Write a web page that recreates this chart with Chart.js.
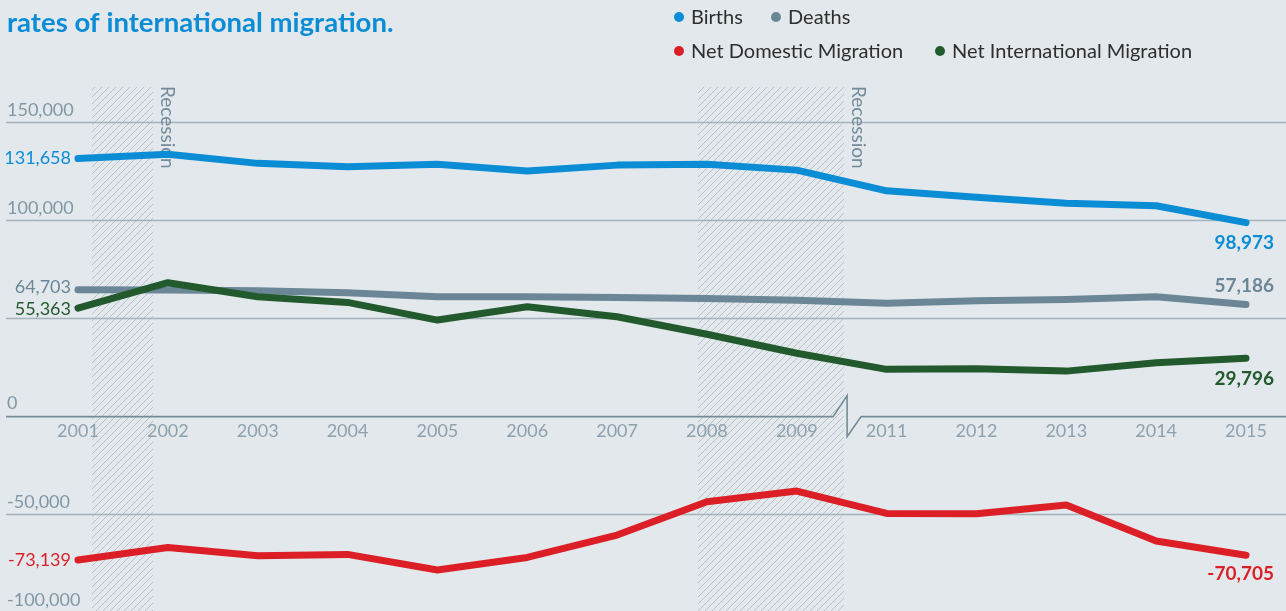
<!DOCTYPE html>
<html><head><meta charset="utf-8">
<script src="https://cdn.jsdelivr.net/npm/chart.js@4.4.1/dist/chart.umd.min.js"></script>
<style>
html,body{margin:0;padding:0;background:#e3e8ec;overflow:hidden}
canvas{display:block}
</style></head><body>
<canvas id="c" width="1286" height="611"></canvas>
<script>
// ---- data ----
const years = ['2001','2002','2003','2004','2005','2006','2007','2008','2009','2011','2012','2013','2014','2015'];
const births = [131658, 133800, 129200, 127450, 128800, 125250, 128300, 128700, 125750, 115200, 111900, 108800, 107550, 98973];
const deaths = [64703, 64550, 64200, 63200, 61150, 61100, 60800, 60300, 59300, 57800, 59100, 59800, 61150, 57186];
const netDomestic = [-73139, -66750, -71000, -70300, -78300, -71850, -60450, -43450, -38000, -49400, -49550, -45150, -63500, -70705];
const netInternational = [55363, 68300, 61150, 58250, 49250, 56000, 50950, 42000, 32300, 24100, 24400, 23200, 27450, 29796];
const seriesNames = ['Births', 'Deaths', 'Net Domestic Migration', 'Net International Migration'];
const yTickValues = [150000, 100000, 50000, -50000, -100000];
const yTickLabels = ['150,000', '100,000', '', '-50,000', '-100,000'];
const zeroLabel = '0';
const recessionStart = [0.156, 6.9];   // category-index units
const recessionEnd = [0.835, 8.525];
const recessionText = 'Recession';
const axisBreakAt = 8.56;
const titleText = 'rates of international migration.';

// ---- styles ----
const C = {
  bg: '#e3e8ec', births: '#0b8dd6', deaths: '#6b8797', dom: '#dc1f27', intl: '#235a2d',
  grid: '#a3b2ba', axis: '#738b99', tick: '#8098a5', xtick: '#8ea1ad', legendText: '#2e2e2e', hatch: '#b3bec5'
};
const FONT = 'Lato, "Open Sans", sans-serif';
const fmt = v => v.toLocaleString('en-US');

const canvas = document.getElementById('c');
function makeHatch(ctx) {
  const s = 7;
  const p = document.createElement('canvas'); p.width = s; p.height = s;
  const g = p.getContext('2d');
  g.strokeStyle = C.hatch; g.lineWidth = 0.9;
  g.beginPath();
  g.moveTo(0, s); g.lineTo(s, 0);
  g.moveTo(-1, 1); g.lineTo(1, -1);
  g.moveTo(s - 1, s + 1); g.lineTo(s + 1, s - 1);
  g.stroke();
  return ctx.createPattern(p, 'repeat');
}

const decor = {
  id: 'decor',
  beforeDraw(chart) {
    const ctx = chart.ctx;
    ctx.save();
    ctx.fillStyle = C.bg;
    ctx.fillRect(0, 0, chart.width, chart.height);
    ctx.restore();
  },
  beforeDatasetsDraw(chart) {
    const ctx = chart.ctx, xs = chart.scales.x, ys = chart.scales.y, W = chart.width;
    const top = chart.chartArea.top;
    ctx.save();
    // recession hatch
    ctx.fillStyle = makeHatch(ctx);
    recessionStart.forEach((s, i) => {
      const x0 = xs.getPixelForValue(s), x1 = xs.getPixelForValue(recessionEnd[i]);
      ctx.fillRect(x0, top, x1 - x0, chart.height - top);
    });
    // gridlines
    ctx.strokeStyle = C.grid; ctx.lineWidth = 1.5;
    yTickValues.forEach(v => {
      const y = ys.getPixelForValue(v);
      ctx.beginPath(); ctx.moveTo(6, y); ctx.lineTo(W, y); ctx.stroke();
    });
    // zero axis with break
    const y0 = ys.getPixelForValue(0);
    const bx = xs.getPixelForValue(axisBreakAt);
    ctx.strokeStyle = C.axis; ctx.lineWidth = 1.6; ctx.lineJoin = 'miter';
    ctx.beginPath();
    ctx.moveTo(6, y0); ctx.lineTo(bx - 14, y0); ctx.lineTo(bx, y0 - 21); ctx.lineTo(bx, y0 + 20); ctx.lineTo(bx + 14, y0); ctx.lineTo(W, y0);
    ctx.stroke();
    // y tick labels
    ctx.font = '18px ' + FONT; ctx.fillStyle = C.tick; ctx.textAlign = 'left'; ctx.textBaseline = 'alphabetic';
    yTickValues.forEach((v, i) => { if (yTickLabels[i]) ctx.fillText(yTickLabels[i], 7, ys.getPixelForValue(v) - 7); });
    ctx.fillText(zeroLabel, 7, y0 - 8);
    // x labels
    ctx.fillStyle = C.xtick; ctx.textAlign = 'center';
    years.forEach((yr, i) => ctx.fillText(yr, xs.getPixelForValue(i), y0 + 20));
    // recession labels
    ctx.fillStyle = C.axis; ctx.font = '19px ' + FONT; ctx.textAlign = 'left';
    recessionEnd.forEach(e => {
      const x = xs.getPixelForValue(e) + 8;
      ctx.save(); ctx.translate(x, top - 1); ctx.rotate(Math.PI / 2);
      ctx.fillText(recessionText, 0, 0);
      ctx.restore();
    });
    ctx.restore();
  },
  afterDatasetsDraw(chart) {
    const ctx = chart.ctx;
    ctx.save();
    const ds = chart.data.datasets;
    const startOff = [0, -3, 0, 1];
    const endOff = [20, -19, 19, 21];
    ctx.textBaseline = 'middle';
    ds.forEach((d, i) => {
      const meta = chart.getDatasetMeta(i);
      const p0 = meta.data[0], pN = meta.data[meta.data.length - 1];
      ctx.fillStyle = d.borderColor;
      ctx.font = '18px ' + FONT; ctx.textAlign = 'right';
      ctx.fillText(fmt(d.data[0]), 71, p0.y + startOff[i]);
      ctx.font = 'bold 19px ' + FONT;
      ctx.fillText(fmt(d.data[d.data.length - 1]), 1274, pN.y + endOff[i]);
    });
    // legend
    const legendPos = [[679, 17], [776, 17], [679, 51], [940, 51]];
    ctx.textAlign = 'left'; ctx.font = '20px ' + FONT;
    ds.forEach((d, i) => {
      const [x, y] = legendPos[i];
      ctx.fillStyle = d.borderColor;
      ctx.beginPath(); ctx.arc(x, y, 5, 0, Math.PI * 2); ctx.fill();
      ctx.fillStyle = C.legendText;
      ctx.fillText(d.label, x + 12, y + 1);
    });
    // title
    ctx.textBaseline = 'alphabetic';
    ctx.font = 'bold 27.5px ' + FONT; ctx.fillStyle = C.births;
    ctx.fillText(titleText, 7, 32);
    ctx.restore();
  }
};

const lineDs = (label, data, color, order) => ({
  label, data, borderColor: color, backgroundColor: color, borderWidth: 7,
  pointRadius: 0, tension: 0, borderCapStyle: 'round', borderJoinStyle: 'round', clip: false, order
});

new Chart(canvas, {
  type: 'line',
  data: {
    labels: years,
    datasets: [
      lineDs(seriesNames[0], births, C.births, 0),
      lineDs(seriesNames[1], deaths, C.deaths, 2),
      lineDs(seriesNames[2], netDomestic, C.dom, 0),
      lineDs(seriesNames[3], netInternational, C.intl, 1)
    ]
  },
  options: {
    responsive: false, devicePixelRatio: 1, animation: false,
    layout: { padding: { left: 78, right: 40, top: 87, bottom: 0 } },
    scales: {
      x: { type: 'category', display: false, offset: false },
      y: { type: 'linear', display: false, min: -99190, max: 168160 }
    },
    plugins: { legend: { display: false }, tooltip: { enabled: false } },
    events: []
  },
  plugins: [decor]
});
</script>
</body></html>
